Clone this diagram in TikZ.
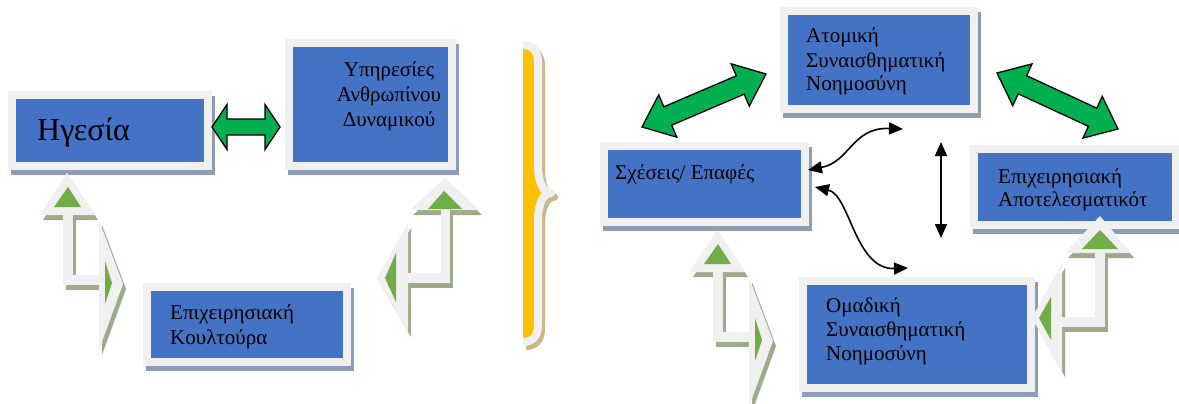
\documentclass[tikz,border=0pt]{standalone}
\usepackage{fontspec}
\setmainfont{Liberation Serif}
\usetikzlibrary{arrows.meta,calc}
\definecolor{boxblue}{HTML}{4472C4}
\definecolor{framegray}{HTML}{F0F0F0}
\definecolor{boxshadow}{HTML}{8E9CB6}
\definecolor{arrshadow}{HTML}{9DAA8C}
\definecolor{dgreen}{HTML}{00B050}
\definecolor{lgreen}{HTML}{70AD47}
\definecolor{braceyellow}{HTML}{FFC000}
\definecolor{braceshadow}{HTML}{C8B98C}
\tikzset{
  gbox/.style={rectangle, draw=framegray, line width=8pt, fill=boxblue, inner sep=0pt},
  txt/.style={inner sep=0pt, anchor=base west, font=\fontsize{21}{25}\selectfont},
  ctxt/.style={txt, anchor=base},
  thinarrow/.style={line width=1.6pt, {Triangle[length=14pt,width=12pt]}-{Triangle[length=14pt,width=12pt]}},
  fatarrow/.style={fill=dgreen, draw=black, line width=1.3pt, line join=miter}
}
\newcommand\mybox[5]{%
  \fill[boxshadow] ({#2-5},{#3-3}) rectangle ({#4+11},{#5+13});
  \node[gbox, minimum width={(#4-#2+8)*1pt}, minimum height={(#5-#3+8)*1pt}] (#1) at ({(#2+#4)/2},{(#3+#5)/2}) {};
}
\newcommand\dblarrow[5]{%
  \path[fatarrow] (#1) -- ($(#1)!#3!(#2)!#4!90:(#2)$) -- ($(#1)!#3!(#2)!#5!90:(#2)$)
   -- ($(#2)!#3!(#1)!#5!-90:(#1)$) -- ($(#2)!#3!(#1)!#4!-90:(#1)$) -- (#2)
   -- ($(#2)!#3!(#1)!#4!90:(#1)$) -- ($(#2)!#3!(#1)!#5!90:(#1)$)
   -- ($(#1)!#3!(#2)!#5!-90:(#2)$) -- ($(#1)!#3!(#2)!#4!-90:(#2)$) -- cycle;
}
\newcommand\bentUR[1]{%
  \fill[#1] (40,215) -- (67,173) -- (95,215) -- cycle;
  \fill[#1] (63,213) rectangle (73,285);
  \fill[#1] (63,275) rectangle (101,285);
  \fill[#1] (99,220) -- (123,284) -- (99,350) -- cycle;
}
\newcommand\bentB[1]{%
  \fill[#1] (410,210) -- (445,178) -- (479,210) -- cycle;
  \fill[#1] (441,208) rectangle (450,283);
  \fill[#1] (404,273) rectangle (450,283);
  \fill[#1] (408,223) -- (377,278) -- (408,332) -- cycle;
}
\newcommand\bentD[1]{%
  \fill[#1] (1065,253) -- (1100,216) -- (1131,253) -- cycle;
  \fill[#1] (1095,251) rectangle (1105,327);
  \fill[#1] (1058,317) rectangle (1105,327);
  \fill[#1] (1062,263) -- (1032,318) -- (1062,372) -- cycle;
}
\newcommand\bracepath{(523,45) .. controls (533,45) and (538,52) .. (538,62) -- (538,165) .. controls (538,182) and (543,193) .. (551,193) .. controls (543,193) and (538,204) .. (538,221) -- (538,325) .. controls (538,335) and (533,342) .. (523,342)}
\begin{document}
\begin{tikzpicture}[x=1pt,y=-1pt]
\useasboundingbox (0,0) rectangle (1179,404);
\fill[white] (0,0) rectangle (1179,404);

% boxes
\mybox{hgesia}{16}{99}{204}{162}
\mybox{ypiresies}{293}{47}{448}{162}
\mybox{koultoura}{151}{291}{343}{358}
\mybox{atomiki}{788}{15}{970}{105}
\mybox{sxeseis}{608}{150}{801}{218}
\mybox{apotel}{978}{153}{1172}{221}
\mybox{omadiki}{807}{285}{1027}{384}

% texts
\node[txt, font=\fontsize{32}{36}\selectfont] (t1) at (37,140) {Ηγεσία};
\node[ctxt] (t2a) at (389,77) {Υπηρεσίες};
\node[ctxt] (t2b) at (389,102) {Ανθρωπίνου};
\node[ctxt] (t2c) at (389,126) {Δυναμικού};
\node[txt] (t3a) at (170,319) {Επιχειρησιακή};
\node[txt] (t3b) at (170,344) {Κουλτούρα};
\node[txt] (t4a) at (806,43) {Ατομική};
\node[txt] (t4b) at (806,67) {Συναισθηματική};
\node[txt] (t4c) at (806,91) {Νοημοσύνη};
\node[txt] (t5) at (615,179) {Σχέσεις/ Επαφές};
\node[txt] (t6a) at (998,183) {Επιχειρησιακή};
\node[txt] (t6b) at (998,206) {Αποτελεσματικότ};
\node[txt] (t7a) at (826,312) {Ομαδική};
\node[txt] (t7b) at (826,336) {Συναισθηματική};
\node[txt] (t7c) at (826,360) {Νοημοσύνη};

% green double arrows
\coordinate (ga1) at (212,127);
\coordinate (ga2) at (280,127);
\dblarrow{ga1}{ga2}{15pt}{22.5pt}{8pt}
\coordinate (gb1) at (642,127);
\coordinate (gb2) at (766,74);
\dblarrow{gb1}{gb2}{28pt}{23pt}{10pt}
\coordinate (gc1) at (997,73);
\coordinate (gc2) at (1118,129);
\dblarrow{gc1}{gc2}{28pt}{23pt}{10pt}

% bent arrows
\begin{scope}[shift={(3,5)}]\bentUR{arrshadow}\end{scope}
\bentUR{framegray}
\fill[lgreen] (54,207) -- (68,187) -- (81,207) -- cycle;
\fill[lgreen] (105,261) -- (112,283) -- (105,304) -- cycle;

\begin{scope}[shift={(650,57)}]
\begin{scope}[shift={(3,5)}]\bentUR{arrshadow}\end{scope}
\bentUR{framegray}
\fill[lgreen] (54,207) -- (68,187) -- (81,207) -- cycle;
\fill[lgreen] (105,261) -- (112,283) -- (105,304) -- cycle;
\end{scope}

\begin{scope}[shift={(3,5)}]\bentB{arrshadow}\end{scope}
\bentB{framegray}
\fill[lgreen] (428,209) -- (444,191) -- (462,209) -- cycle;
\fill[lgreen] (396,253) -- (385,278) -- (396,302) -- cycle;

\begin{scope}[shift={(3,5)}]\bentD{arrshadow}\end{scope}
\bentD{framegray}
\fill[lgreen] (1082,249) -- (1100,230) -- (1118,249) -- cycle;
\fill[lgreen] (1051,297) -- (1039,318) -- (1051,340) -- cycle;

% brace
\begin{scope}[shift={(3,4)}]
\draw[braceshadow, line width=8pt, line join=round] \bracepath;
\end{scope}
\fill[braceyellow] \bracepath -- cycle;
\draw[framegray, line width=8pt, line join=round] \bracepath;

% thin black arrows
\coordinate (k1) at (808,170);
\coordinate (k2) at (903,129);
\coordinate (k3) at (815,187);
\coordinate (k4) at (908,268);
\coordinate (k5) at (941,142);
\coordinate (k6) at (941,238);
\draw[thinarrow] (k1) .. controls (850,162) and (852,127) .. (k2);
\draw[thinarrow] (k3) .. controls (850,195) and (855,270) .. (k4);
\draw[thinarrow] (k5) -- (k6);
\end{tikzpicture}
\end{document}
